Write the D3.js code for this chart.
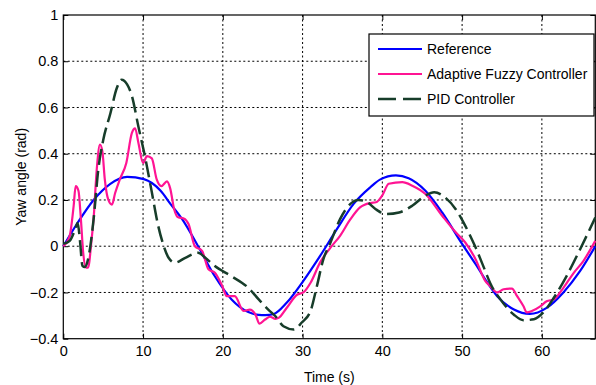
<!DOCTYPE html>
<html>
<head>
<meta charset="utf-8">
<script src="https://cdn.jsdelivr.net/npm/d3@7"></script>
<style>
  html, body { margin: 0; padding: 0; background: #fff; }
  svg { display: block; font-family: "Liberation Sans", Arial, sans-serif; }
</style>
</head>
<body>
<div id="chart"></div>
<script>
// reference trajectory
const refT = [0, 1.7, 3.8, 5.9, 8.0, 10.1, 12.2, 13.5, 14.9, 16.9, 19.0, 21.1, 23.2, 24.5, 25.3, 26.4, 28.0, 30.1, 32.2, 34.3, 36.4, 38.5, 39.7, 41.7, 43.3, 45.4, 47.5, 50.0, 51.7, 52.9, 54.4, 56.5, 58.5, 60.6, 62.7, 64.8, 66.7];
const refY = [0, 0.096, 0.2, 0.27, 0.30, 0.29, 0.24, 0.18, 0.117, 0.0, -0.13, -0.23, -0.285, -0.297, -0.298, -0.293, -0.245, -0.15, -0.042, 0.074, 0.183, 0.255, 0.288, 0.306, 0.294, 0.24, 0.146, 0.01, -0.078, -0.143, -0.216, -0.274, -0.293, -0.267, -0.2, -0.107, 0.0];

// adaptive fuzzy controller
const fuzzyT = [0, 0.8, 1.3, 1.55, 1.9, 2.2, 2.5, 2.85, 3.1, 3.55, 3.8, 4.2, 4.6, 4.9, 5.2, 5.65, 6.1, 6.5, 7.1, 7.9, 8.6, 9.0, 9.4, 10.0, 10.5, 11.1, 11.7, 12.3, 13.0, 13.4, 13.9, 14.4, 15.1, 15.7, 16.5, 17.4, 18.2, 19.0, 19.9, 20.5, 21.5, 22.6, 23.4, 24.1, 24.6, 25.3, 25.9, 26.6, 27.0, 28.0, 29.3, 30.1, 31.0, 32.2, 33.5, 34.7, 36.0, 37.2, 38.5, 39.2, 40.0, 40.8, 42.5, 43.75, 45.4, 47.5, 49.2, 50.4, 51.7, 52.9, 53.5, 54.4, 55.2, 56.25, 56.9, 57.7, 58.1, 58.75, 59.8, 60.6, 61.5, 62.7, 64.0, 65.2, 66.7];
const fuzzyY = [0, 0.045, 0.175, 0.26, 0.24, 0.12, -0.03, -0.093, -0.093, 0.03, 0.12, 0.335, 0.44, 0.41, 0.29, 0.20, 0.18, 0.23, 0.29, 0.36, 0.49, 0.51, 0.45, 0.36, 0.39, 0.38, 0.29, 0.26, 0.28, 0.25, 0.16, 0.125, 0.12, 0.096, 0.0, -0.02, -0.1, -0.115, -0.17, -0.216, -0.216, -0.28, -0.274, -0.296, -0.335, -0.317, -0.305, -0.314, -0.31, -0.267, -0.21, -0.2, -0.158, -0.07, -0.006, 0.045, 0.117, 0.168, 0.187, 0.19, 0.22, 0.27, 0.277, 0.262, 0.226, 0.132, 0.06, 0.016, -0.057, -0.15, -0.172, -0.2, -0.186, -0.183, -0.216, -0.26, -0.286, -0.28, -0.26, -0.238, -0.23, -0.18, -0.115, -0.064, 0.023];

// PID controller
const pidT = [0, 0.8, 1.5, 1.8, 2.1, 2.4, 2.7, 3.1, 3.8, 4.4, 5.0, 5.9, 6.7, 7.3, 8.0, 8.6, 9.4, 10.3, 11.1, 11.9, 12.6, 13.2, 14.0, 15.3, 16.9, 17.8, 19.0, 21.1, 23.2, 24.5, 25.7, 26.6, 27.6, 28.9, 29.9, 31.0, 31.8, 32.6, 33.5, 34.7, 36.0, 37.0, 38.1, 39.3, 40.4, 42.1, 43.75, 45.4, 46.5, 47.9, 49.2, 50.4, 51.7, 52.9, 53.5, 54.8, 56.5, 57.7, 59.0, 60.2, 61.5, 63.1, 64.8, 66.7];
const pidY = [0.01, 0.023, 0.074, 0.10, 0.02, -0.085, -0.09, -0.057, 0.117, 0.335, 0.458, 0.574, 0.683, 0.72, 0.70, 0.65, 0.52, 0.378, 0.233, 0.088, 0.0, -0.05, -0.071, -0.05, -0.028, -0.05, -0.086, -0.13, -0.18, -0.23, -0.274, -0.303, -0.346, -0.36, -0.33, -0.28, -0.172, -0.057, 0.016, 0.117, 0.183, 0.2, 0.19, 0.157, 0.139, 0.146, 0.175, 0.219, 0.233, 0.21, 0.16, 0.088, -0.006, -0.107, -0.158, -0.23, -0.296, -0.32, -0.316, -0.286, -0.223, -0.129, -0.013, 0.124];

const xTicks = [0, 10, 20, 30, 40, 50, 60];
const yTicks = [-0.4, -0.2, 0, 0.2, 0.4, 0.6, 0.8, 1];
const legendNames = ["Reference", "Adaptive Fuzzy Controller", "PID Controller"];

const BLUE = "#0000ff";
const PINK = "#ff1493";
const DARK_GREEN = "#173d2a";

const width = 596;
const height = 385;
const margin = { top: 15, right: 0.7, bottom: 46.3, left: 63.3 };
const innerW = width - margin.left - margin.right;
const innerH = height - margin.top - margin.bottom;

const svg = d3.select("#chart").append("svg").attr("width", width).attr("height", height);
const g = svg.append("g").attr("transform", `translate(${margin.left},${margin.top})`);

const x = d3.scaleLinear().domain([0, 66.7]).range([0, innerW]);
const y = d3.scaleLinear().domain([-0.4, 1]).range([innerH, 0]);

////////////////////////////////////////////////////////////////////////////////////
// grid

g.append("g")
  .selectAll("line")
  .data(xTicks.filter((d) => d > 0))
  .enter()
  .append("line")
  .attr("x1", (d) => x(d))
  .attr("x2", (d) => x(d))
  .attr("y1", 0)
  .attr("y2", innerH)
  .attr("stroke", "#000")
  .attr("stroke-width", 1)
  .attr("stroke-dasharray", "2,2.5");

g.append("g")
  .selectAll("line")
  .data(yTicks.filter((d) => d > -0.4 && d < 1))
  .enter()
  .append("line")
  .attr("x1", 0)
  .attr("x2", innerW)
  .attr("y1", (d) => y(d))
  .attr("y2", (d) => y(d))
  .attr("stroke", "#000")
  .attr("stroke-width", 1)
  .attr("stroke-dasharray", "2,2.5");

////////////////////////////////////////////////////////////////////////////////////
// axes

const xAxis = g
  .append("g")
  .attr("transform", `translate(0,${innerH})`)
  .call(d3.axisBottom(x).tickValues(xTicks).tickFormat(d3.format("d")).tickSize(-5).tickPadding(7));

const yAxis = g
  .append("g")
  .call(d3.axisLeft(y).tickValues(yTicks).tickFormat((d) => (d === 0 || d === 1 ? String(d) : d3.format(".1f")(d))).tickSize(-5).tickPadding(5));

[xAxis, yAxis].forEach((a) => {
  a.select(".domain").remove();
  a.selectAll("text").attr("font-size", "14.5px").attr("fill", "#000").attr("font-family", "Liberation Sans, Arial, sans-serif");
  a.selectAll(".tick line").attr("stroke", "#000");
});

// top and right ticks
g.append("g")
  .call(d3.axisTop(x).tickValues(xTicks).tickSize(-5).tickFormat(""))
  .call((s) => s.select(".domain").remove());
g.append("g")
  .attr("transform", `translate(${innerW},0)`)
  .call(d3.axisRight(y).tickValues(yTicks).tickSize(-5).tickFormat(""))
  .call((s) => s.select(".domain").remove());

g.append("rect")
  .attr("width", innerW)
  .attr("height", innerH)
  .attr("fill", "none")
  .attr("stroke", "#000")
  .attr("stroke-width", 1.2);

////////////////////////////////////////////////////////////////////////////////////
// series

const line = d3
  .line()
  .x((d) => x(d[0]))
  .y((d) => y(d[1]))
  .curve(d3.curveMonotoneX);

const zip = (ts, vs) => ts.map((t, i) => [t, vs[i]]);

const plot = g.append("g");

plot.append("path")
  .datum(zip(refT, refY))
  .attr("d", line)
  .attr("fill", "none")
  .attr("stroke", BLUE)
  .attr("stroke-width", 2.2);

plot.append("path")
  .datum(zip(fuzzyT, fuzzyY))
  .attr("d", line)
  .attr("fill", "none")
  .attr("stroke", PINK)
  .attr("stroke-width", 2.2);

plot.append("path")
  .datum(zip(pidT, pidY))
  .attr("d", line)
  .attr("fill", "none")
  .attr("stroke", DARK_GREEN)
  .attr("stroke-width", 2.5)
  .attr("stroke-dasharray", "16,6");

////////////////////////////////////////////////////////////////////////////////////
// labels

svg.append("text")
  .attr("x", margin.left + innerW / 2)
  .attr("y", 382)
  .attr("text-anchor", "middle")
  .attr("font-size", "14px")
  .text("Time (s)");

svg.append("text")
  .attr("transform", `translate(26,${margin.top + innerH / 2}) rotate(-90)`)
  .attr("text-anchor", "middle")
  .attr("font-size", "14px")
  .text("Yaw angle (rad)");

////////////////////////////////////////////////////////////////////////////////////
// legend

const legend = svg.append("g").attr("transform", "translate(369,34)");
legend.append("rect").attr("width", 225).attr("height", 82).attr("fill", "#fff").attr("stroke", "#000").attr("stroke-width", 1.2);

const legendStyles = [
  { color: BLUE, width: 2.2, dash: null },
  { color: PINK, width: 2.2, dash: null },
  { color: DARK_GREEN, width: 2.5, dash: "18,7" },
];

const item = legend
  .selectAll("g.item")
  .data(legendNames)
  .enter()
  .append("g")
  .attr("class", "item")
  .attr("transform", (d, i) => `translate(0,${15 + i * 25})`);

item.append("line")
  .attr("x1", 9)
  .attr("x2", 53)
  .attr("stroke", (d, i) => legendStyles[i].color)
  .attr("stroke-width", (d, i) => legendStyles[i].width)
  .attr("stroke-dasharray", (d, i) => legendStyles[i].dash);

item.append("text")
  .attr("x", 58)
  .attr("y", 5)
  .attr("font-size", "14px")
  .text((d) => d);
</script>
</body>
</html>
